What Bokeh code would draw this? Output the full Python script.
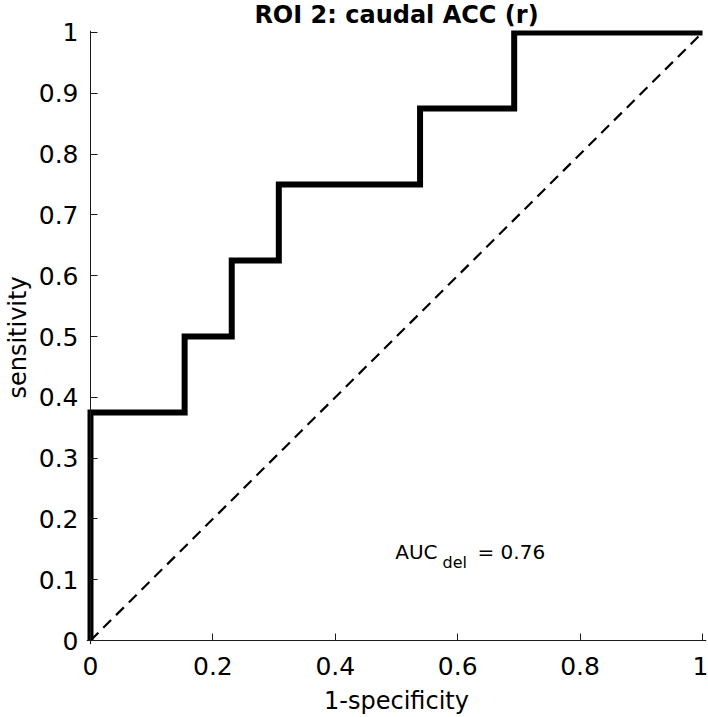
from bokeh.plotting import figure
from bokeh.models import Range1d, FixedTicker, Label, LinearAxis
from bokeh.embed import file_html
from bokeh.resources import INLINE

# ---- data ----
fpr = [0.0, 0.0, 0.1538, 0.1538, 0.2308, 0.2308, 0.3077, 0.3077, 0.5385, 0.5385, 0.6923, 0.6923, 1.0]
tpr = [0.0, 0.375, 0.375, 0.5, 0.5, 0.625, 0.625, 0.75, 0.75, 0.875, 0.875, 1.0, 1.0]
chance_x = [0.0, 1.0]
chance_y = [0.0, 1.0]
x_ticks = [0.0, 0.2, 0.4, 0.6, 0.8, 1.0]
x_tick_labels = ["0", "0.2", "0.4", "0.6", "0.8", "1"]
y_ticks = [0.0, 0.1, 0.2, 0.3, 0.4, 0.5, 0.6, 0.7, 0.8, 0.9, 1.0]
y_tick_labels = ["0", "0.1", "0.2", "0.3", "0.4", "0.5", "0.6", "0.7", "0.8", "0.9", "1"]
title_text = "ROI 2: caudal ACC (r)"
x_label = "1-specificity"
y_label = "sensitivity"
auc_name = "AUC"
auc_sub = "del"
auc_value = "= 0.76"
auc_x = 0.5
auc_y = 0.145

FONT = "DejaVu Sans"
PAD_L = 4 / 612
PAD_R = 4 / 612
PAD_B = 4 / 609
PAD_T = 2 / 609

p = figure(width=708, height=717,
           x_range=Range1d(-PAD_L, 1 + PAD_R), y_range=Range1d(-PAD_B, 1 + PAD_T),
           x_axis_location=None, y_axis_location=None,
           output_backend="svg", toolbar_location=None, title=title_text,
           min_border_left=86, min_border_right=2, min_border_top=29, min_border_bottom=73)
p.background_fill_color = "white"
p.border_fill_color = "white"
p.outline_line_color = None
for g in p.grid:
    g.visible = False

p.title.align = "center"
p.title.vertical_align = "top"
p.title.text_font = FONT
p.title.text_font_size = "24px"
p.title.text_font_style = "bold"
p.title.text_color = "black"
p.title.standoff = 0
p.title.offset = 0

# axis lines and inward ticks placed exactly at 0 (no labels, no space)
line_x = LinearAxis(ticker=FixedTicker(ticks=x_ticks), fixed_location=0.0)
line_y = LinearAxis(ticker=FixedTicker(ticks=y_ticks), fixed_location=0.0)
for ax in (line_x, line_y):
    ax.major_tick_in = 7
    ax.major_tick_out = 0
    ax.minor_tick_line_color = None
    ax.axis_line_color = "#1a1a1a"
    ax.major_tick_line_color = "#1a1a1a"
    ax.axis_line_width = 1
    ax.major_label_text_font_size = "0px"
    ax.major_label_standoff = 0
    ax.axis_label_standoff = 0
    ax.major_label_text_alpha = 0
p.add_layout(line_x, "below")
p.add_layout(line_y, "left")

# labels-only axes at the frame edges
lab_x = LinearAxis(ticker=FixedTicker(ticks=x_ticks), axis_label=x_label)
lab_y = LinearAxis(ticker=FixedTicker(ticks=y_ticks), axis_label=y_label)
for ax, ticks, labels in ((lab_x, x_ticks, x_tick_labels), (lab_y, y_ticks, y_tick_labels)):
    ax.major_label_overrides = dict(zip(ticks, labels))
    ax.axis_line_color = None
    ax.major_tick_line_color = None
    ax.minor_tick_line_color = None
    ax.major_tick_in = 0
    ax.major_tick_out = 0
    ax.major_label_text_font = FONT
    ax.major_label_text_font_size = "25px"
    ax.major_label_text_color = "black"
    ax.axis_label_text_font = FONT
    ax.axis_label_text_font_size = "24px"
    ax.axis_label_text_font_style = "normal"
    ax.axis_label_text_color = "black"
lab_x.major_label_standoff = 12
lab_x.axis_label_standoff = 9
lab_y.major_label_standoff = 8
lab_y.axis_label_standoff = 4
p.add_layout(lab_x, "below")
p.add_layout(lab_y, "left")

p.line(chance_x, chance_y, line_color="black", line_width=2.2, line_dash="11 7")
p.line(fpr, tpr, line_color="black", line_width=6, line_join="miter", line_cap="butt")

p.add_layout(Label(x=auc_x, y=auc_y, x_offset=41, text=auc_name, text_align="right",
                   text_baseline="alphabetic", text_font=FONT, text_font_size="20px",
                   text_color="black"))
p.add_layout(Label(x=auc_x, y=auc_y, x_offset=46, y_offset=-10, text=auc_sub, text_align="left",
                   text_baseline="alphabetic", text_font=FONT, text_font_size="16px",
                   text_color="black"))
p.add_layout(Label(x=auc_x, y=auc_y, x_offset=81, text=auc_value, text_align="left",
                   text_baseline="alphabetic", text_font=FONT, text_font_size="20px",
                   text_color="black"))

open("out.html", "w").write(file_html(p, INLINE))
